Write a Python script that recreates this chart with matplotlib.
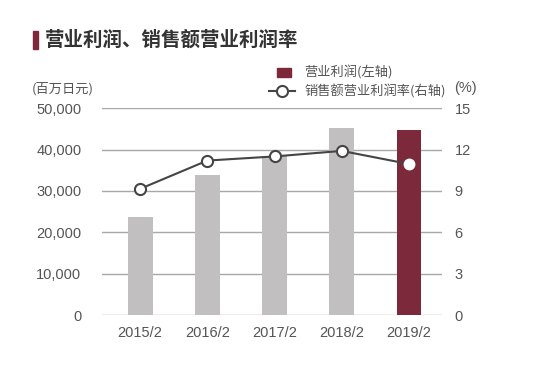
import numpy as np
import matplotlib
matplotlib.use('Agg')
import matplotlib.pyplot as plt
from matplotlib.patches import Rectangle
from matplotlib.lines import Line2D

plt.rcParams['font.family'] = ['Noto Sans CJK SC', 'DejaVu Sans']

years = ['2015/2', '2016/2', '2017/2', '2018/2', '2019/2']
profit = [23700, 33900, 38400, 45200, 44700]  # 百万日元
margin = [9.15, 11.2, 11.5, 11.9, 10.95]  # %
left_ticks = [0, 10000, 20000, 30000, 40000, 50000]
right_ticks = [0, 3, 6, 9, 12, 15]

gray_bar = '#c1bfc0'
red = '#7c2a3b'
line_c = '#454545'
txt = '#555555'
grid_c = '#a8a8a8'

fig = plt.figure(figsize=(5.49, 3.89), dpi=100)
ax = fig.add_axes([0.186, 0.19, 0.619, 0.532])
x = np.arange(len(years))

for t in left_ticks:
    ax.axhline(t, color=grid_c, lw=1.0, zorder=1)
colors = [gray_bar] * (len(years) - 1) + [red]
ax.bar(x, profit, width=0.37, color=colors, zorder=2)
ax.set_xlim(-0.565, 4.49)
ax.set_ylim(0, 50000)
ax.set_yticks(left_ticks)
ax.set_yticklabels([f'{t:,}' for t in left_ticks], family='Liberation Sans', fontsize=10.5, color=txt)
ax.set_xticks(x)
ax.set_xticklabels(years, family='Liberation Sans', fontsize=10.5, color=txt)
ax.yaxis.set_tick_params(length=0, pad=15)
ax.xaxis.set_tick_params(length=0, pad=8)
for s in ax.spines.values():
    s.set_visible(False)

ax2 = ax.twinx()
ax2.set_ylim(0, 15)
ax2.set_yticks(right_ticks)
ax2.set_yticklabels([str(t) for t in right_ticks], family='Liberation Sans', fontsize=10.5, color=txt)
ax2.yaxis.set_tick_params(length=0, pad=9)
for s in ax2.spines.values():
    s.set_visible(False)
ax2.plot(x, margin, color=line_c, lw=1.5, zorder=3)
ax2.plot(x[:-1], margin[:-1], 'o', ms=8, mfc='white', mec=line_c, mew=1.5, zorder=4)
ax2.plot(x[-1:], margin[-1:], 'o', ms=7.5, mfc='white', mec='white', zorder=4)

# title
fig.patches.append(Rectangle((33 / 549, 1 - 49 / 389), 5 / 549, 18 / 389,
                             transform=fig.transFigure, color=red, zorder=5))
fig.text(45 / 549, 1 - 40 / 389, '营业利润、销售额营业利润率', fontsize=14,
         fontweight='bold', color='#333333', va='center', ha='left')

# units
fig.text(32 / 549, 1 - 89 / 389, '(百万日元)', fontsize=9.5, color=txt, va='center', ha='left')
fig.text(454 / 549, 1 - 88 / 389, '(%)', fontsize=10.5, family='Liberation Sans',
         color=txt, va='center', ha='left')

# legend
fig.patches.append(Rectangle((277 / 549, 1 - 77 / 389), 14 / 549, 9 / 389,
                             transform=fig.transFigure, color=red))
fig.text(304 / 549, 1 - 72 / 389, '营业利润(左轴)', fontsize=9.5, color=txt, va='center', ha='left')
fig.lines.append(Line2D([269 / 549, 295 / 549], [1 - 91 / 389, 1 - 91 / 389],
                        transform=fig.transFigure, color=line_c, lw=1.5))
fig.lines.append(Line2D([282 / 549], [1 - 91 / 389], transform=fig.transFigure,
                        marker='o', ms=8, mfc='white', mec=line_c, mew=1.5))
fig.text(304 / 549, 1 - 91 / 389, '销售额营业利润率(右轴)', fontsize=9.5, color=txt, va='center', ha='left')

fig.savefig('out.png', dpi=100, facecolor='white')
